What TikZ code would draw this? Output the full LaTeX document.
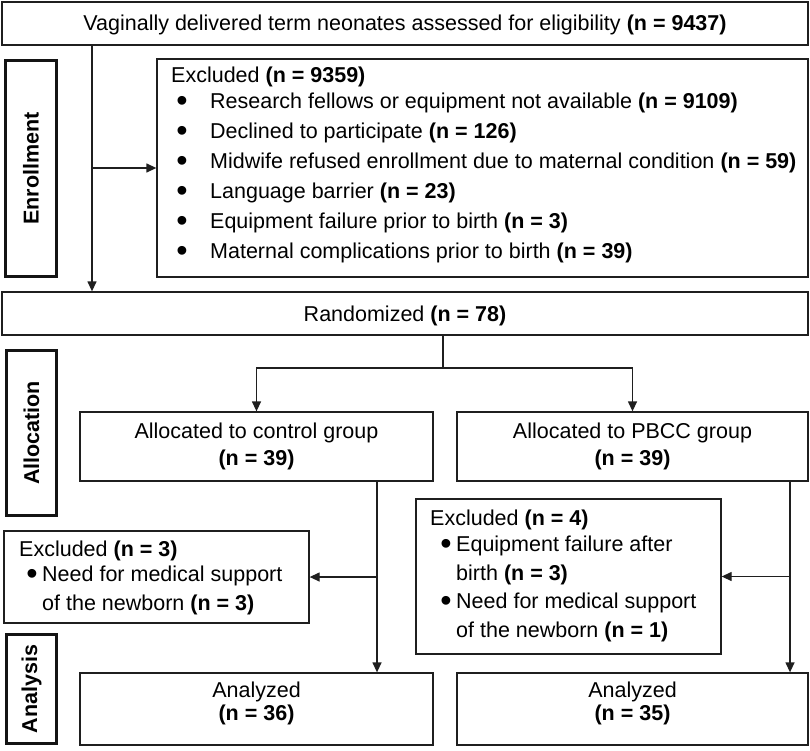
\documentclass[tikz,border=0pt]{standalone}
\usepackage{fontspec}
\setmainfont{Liberation Sans}
\usetikzlibrary{arrows.meta}
\begin{document}
\begin{tikzpicture}[x=1pt,y=-1pt,
  box/.style={draw=black!88, line width=1.3pt, inner sep=0pt},
  lab/.style={draw=black!92, line width=3pt, inner sep=0pt, rotate=90,
    font=\fontsize{21.5}{25}\selectfont\bfseries},
  txt/.style={inner sep=0pt, anchor=west, font=\fontsize{21.5}{25}\selectfont,
    text height=15pt, text depth=4pt},
  ctxt/.style={txt, anchor=center},
  bul/.style={inner sep=0pt, anchor=center, font=\fontsize{21.5}{25}\selectfont},
  ln/.style={draw=black!88, line width=1.3pt},
  arr/.style={ln, -{Triangle[length=10pt,width=9pt]}}]
\useasboundingbox (0,0) rectangle (810,750);
\newcommand{\bigbul}{\scalebox{1.5}{\textbullet}}

% boxes
\node[box, minimum width=806pt, minimum height=43pt] (top) at (405,23.5) {};
\node[lab, minimum width=216pt, minimum height=51pt] (enl) at (31,168.5) {Enrollment};
\node[box, minimum width=651pt, minimum height=218pt] (excl) at (482.5,168) {};
\node[box, minimum width=806pt, minimum height=43pt] (rand) at (405,313.5) {};
\node[lab, minimum width=165pt, minimum height=50pt] (alc) at (31.5,433) {Allocation};
\node[box, minimum width=353pt, minimum height=69pt] (ctrl) at (256.5,446.5) {};
\node[box, minimum width=351pt, minimum height=69pt] (pbcc) at (632.5,446.5) {};
\node[box, minimum width=305pt, minimum height=92pt] (exL) at (156.5,577) {};
\node[box, minimum width=305pt, minimum height=155pt] (exR) at (568.5,576.5) {};
\node[lab, minimum width=109pt, minimum height=50pt] (anl) at (31.5,689) {Analysis};
\node[box, minimum width=353pt, minimum height=72pt] (anC) at (256.5,709) {};
\node[box, minimum width=351pt, minimum height=72pt] (anP) at (632.5,709) {};

% texts
\node[ctxt] (ttop) at (405,25) {Vaginally delivered term neonates assessed for eligibility \textbf{(n = 9437)}};
\node[txt] (e0) at (171,77) {Excluded \textbf{(n = 9359)}};
\node[bul] (b1) at (182,104) {\bigbul};
\node[txt] (e1) at (210,103) {Research fellows or equipment not available \textbf{(n = 9109)}};
\node[bul] (b2) at (182,134) {\bigbul};
\node[txt] (e2) at (210,133) {Declined to participate \textbf{(n = 126)}};
\node[bul] (b3) at (182,164) {\bigbul};
\node[txt] (e3) at (210,163) {Midwife refused enrollment due to maternal condition \textbf{(n = 59)}};
\node[bul] (b4) at (182,194) {\bigbul};
\node[txt] (e4) at (210,193) {Language barrier \textbf{(n = 23)}};
\node[bul] (b5) at (182,224) {\bigbul};
\node[txt] (e5) at (210,223) {Equipment failure prior to birth \textbf{(n = 3)}};
\node[bul] (b6) at (182,254) {\bigbul};
\node[txt] (e6) at (210,253) {Maternal complications prior to birth \textbf{(n = 39)}};

\node[ctxt] (trand) at (405,316) {Randomized \textbf{(n = 78)}};
\node[ctxt] (tc1) at (256.5,433) {Allocated to control group};
\node[ctxt] (tc2) at (256.5,460) {\textbf{(n = 39)}};
\node[ctxt] (tp1) at (632.5,433) {Allocated to PBCC group};
\node[ctxt] (tp2) at (632.5,460) {\textbf{(n = 39)}};

\node[txt] (l0) at (19,551) {Excluded \textbf{(n = 3)}};
\node[bul] (lb1) at (32,577) {\bigbul};
\node[txt] (l1) at (42,576) {Need for medical support};
\node[txt] (l2) at (42,605) {of the newborn \textbf{(n = 3)}};

\node[txt] (r0) at (430,520) {Excluded \textbf{(n = 4)}};
\node[bul] (rb1) at (446,547) {\bigbul};
\node[txt] (r1) at (456,546) {Equipment failure after};
\node[txt] (r2) at (456,575) {birth \textbf{(n = 3)}};
\node[bul] (rb2) at (446,604) {\bigbul};
\node[txt] (r3) at (456,603) {Need for medical support};
\node[txt] (r4) at (456,632) {of the newborn \textbf{(n = 1)}};

\node[ctxt] (ac1) at (256.5,692) {Analyzed};
\node[ctxt] (ac2) at (256.5,715) {\textbf{(n = 36)}};
\node[ctxt] (ap1) at (632.5,692) {Analyzed};
\node[ctxt] (ap2) at (632.5,715) {\textbf{(n = 35)}};

% connectors
\coordinate (v1) at (92,0);
\coordinate (split) at (443,368);
\coordinate (cx) at (377,0);
\coordinate (px) at (790,0);
\draw[arr] (top.south -| v1) -- (rand.north -| v1);
\draw[arr] (excl.west -| v1) -- (excl.west);
\draw[ln] (rand.south -| split) -- (split);
\draw[arr] (split) -| (ctrl.north);
\draw[arr] (split) -| (pbcc.north);
\draw[arr] (ctrl.south -| cx) -- (anC.north -| cx);
\draw[arr] (exL.east -| cx) -- (exL.east);
\draw[arr] (pbcc.south -| px) -- (anP.north -| px);
\draw[arr] (exR.east -| px) -- (exR.east);
\end{tikzpicture}
\end{document}
